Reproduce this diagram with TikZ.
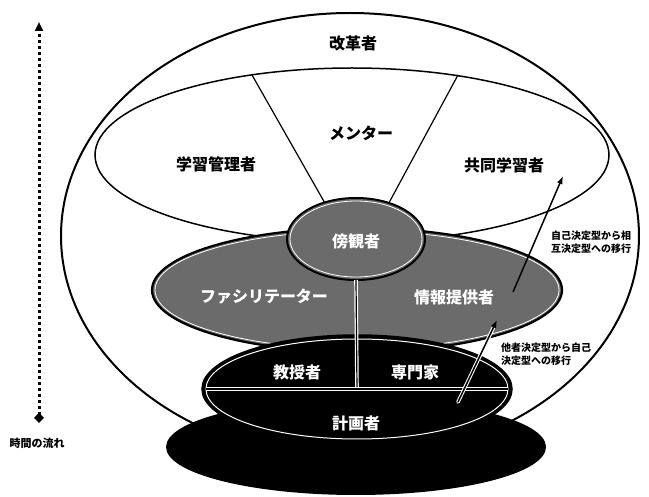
\documentclass[tikz,border=0pt]{standalone}
\usepackage{fontspec}
\newfontfamily\jp{Noto Sans CJK JP}
\usetikzlibrary{shapes.geometric,arrows.meta}
\begin{document}
\begin{tikzpicture}[x=1pt,y=-1pt,
  ell/.style={ellipse, inner sep=0pt, outer sep=0pt},
  lbl/.style={font=\jp\bfseries\fontsize{16}{18}\selectfont, inner sep=0pt},
  wlbl/.style={lbl, text=white},
  note/.style={font=\jp\bfseries\fontsize{10}{13}\selectfont, align=left, anchor=west, inner sep=0pt},
  div/.style={line width=1.2pt, preaction={draw=white, line width=3.6pt}},
  arr/.style={line width=1.5pt, -{Latex[length=8pt,width=6pt]}},
  tex/.style={fill=black!58}
]
\useasboundingbox (0,0) rectangle (649,497);

% outer ellipse
\node[ell, draw, line width=2pt, fill=white, minimum width=578pt, minimum height=446pt] (outer) at (350,236) {};
% inner upper ellipse
\node[ell, draw, line width=1.5pt, fill=white, minimum width=514pt, minimum height=174pt] (inner) at (352,155) {};
\coordinate (mL) at (252,75);
\coordinate (mR) at (458,75);
\coordinate (sL) at (330,212);
\coordinate (sR) at (384,212);
\draw[line width=1.2pt] (mL) -- (sL);
\draw[line width=1.2pt] (mR) -- (sR);

% middle textured ellipse
\node[ell, draw, line width=2.2pt, tex, minimum width=410pt, minimum height=124pt] (mid) at (357,290) {};
\draw[white, line width=0.8pt] (mid.center) ellipse [x radius=202, y radius=59];

% small ellipse
\node[ell, draw, line width=2pt, tex, minimum width=138pt, minimum height=82pt] (obs) at (356,239) {};
\draw[white, line width=0.8pt] (obs.center) ellipse [x radius=66, y radius=38];

% shadow
\node[ell, fill=black, minimum width=380pt, minimum height=96pt] (shadow) at (356,447) {};
% black base ellipse
\node[ell, draw, line width=1.5pt, fill=black, minimum width=310pt, minimum height=108pt] (base) at (357,389) {};
\draw[white, line width=1pt] (base.center) ellipse [x radius=151, y radius=50];

% dividers
\coordinate (hub) at (357,389);
\coordinate (bw) at (206,389);
\coordinate (be) at (508,389);
\draw[div] (obs.south) -- (hub);
\draw[div] (bw) -- (be);

% arrows
\coordinate (a1s) at (513,292);
\coordinate (a1e) at (563,176);
\draw[arr] (a1s) -- (a1e);
\coordinate (a2s) at (458,402);
\coordinate (a2e) at (497,320);
\draw[white, line width=3.6pt, shorten >=7pt, line cap=round] (a2s) -- (a2e);
\draw[arr, line cap=round] (a2s) -- (a2e);

% time arrow
\coordinate (tB) at (39,423);
\coordinate (tT) at (39,22);
\draw[line width=3pt, dash pattern=on 3pt off 3pt,
  {Diamond[length=10pt,width=10pt]}-{Triangle[length=9pt,width=8pt]}] (tB) -- (tT);
\node[font=\jp\bfseries\fontsize{11}{13}\selectfont, inner sep=0pt] (time) at (37,443) {時間の流れ};

% labels
\node[lbl] (kaikaku) at (353,43) {改革者};
\node[lbl] (mentor) at (361,133) {メンター};
\node[lbl] (kanri) at (216,164) {学習管理者};
\node[lbl] (kyodo) at (504,165) {共同学習者};
\node[wlbl] (bokan) at (356,241) {傍観者};
\node[wlbl] (facil) at (264,297) {ファシリテーター};
\node[wlbl] (joho) at (454,297) {情報提供者};
\node[wlbl] (kyoju) at (297,372) {教授者};
\node[wlbl] (senmon) at (415,372) {専門家};
\node[wlbl] (keikaku) at (356,423) {計画者};

\node[note] (n1) at (551,242) {自己決定型から相\\互決定型への移行};
\node[note] (n2) at (501,354) {他者決定型から自己\\決定型への移行};
\end{tikzpicture}
\end{document}
